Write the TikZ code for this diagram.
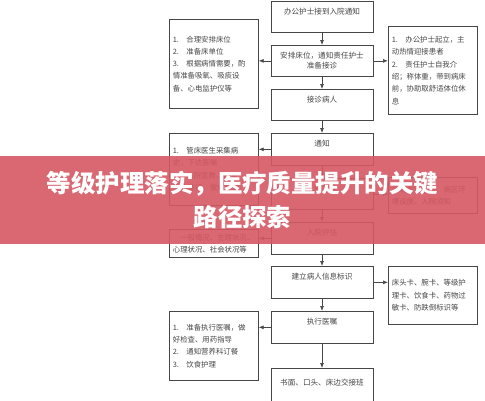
\documentclass[tikz,border=0pt]{standalone}
\usepackage{fontspec}
\setmainfont{Noto Sans CJK SC}
\usepackage{tikz}
\usetikzlibrary{arrows.meta,positioning,shadows}
\definecolor{bannerred}{RGB}{213,88,99}
\definecolor{inkgray}{RGB}{70,70,70}

\begin{document}
\begin{tikzpicture}[
    x=1pt, y=-1pt,
    flow/.style={
        rectangle,
        draw=inkgray,
        fill=white,
        line width=0.7pt,
        text=inkgray,
        font=\fontsize{7.6}{10}\selectfont,
        align=center,
        anchor=north,
        minimum width=102pt,
        minimum height=32pt,
        inner ysep=5pt,
        drop shadow={shadow xshift=1pt, shadow yshift=-1pt, opacity=0.3}
    },
    single/.style={
        flow,
        text height=8pt,
        text depth=14pt
    },
    side/.style={
        rectangle,
        draw=inkgray,
        fill=white,
        line width=0.7pt,
        text=inkgray,
        font=\fontsize{7.4}{12.3}\selectfont,
        align=left,
        anchor=north west,
        text width=82pt,
        inner xsep=3.5pt,
        drop shadow={shadow xshift=1pt, shadow yshift=-1pt, opacity=0.3}
    },
    line/.style={
        -{Latex[length=5pt, width=4pt]},
        line width=0.7pt,
        inkgray
    },
    banner/.style={
        rectangle,
        fill=bannerred,
        fill opacity=0.9,
        text opacity=1,
        text=white,
        align=center,
        inner sep=0pt,
        minimum width=485pt,
        minimum height=88pt,
        font=\fontsize{24.5}{34}\selectfont\bfseries
    }
]
\useasboundingbox (0,0) rectangle (485,400);

% === NODES (coluna central) ===
\node[single, minimum height=31pt, text depth=13pt] (notice) at (322,1) {办公护士接到入院通知};
\node[flow, minimum height=31pt] (bed) at (322,45) {安排床位，通知责任护士\\准备接诊};
\node[single, minimum height=31pt, text depth=13pt] (receive) at (322,89) {接诊病人};
\node[single] (inform) at (322,133) {通知};
\node[single, minimum height=31pt, text depth=13pt] (educate) at (322,178) {入院宣教};
\node[single] (assess) at (322,222) {入院评估};
\node[single] (label) at (322,266) {建立病人信息标识};
\node[single] (order) at (322,311) {执行医嘱};
\node[single, minimum height=40pt] (handover) at (322,368) {书面、口头、床边交接班};

% === NODES (coluna esquerda) ===
\node[side, minimum height=89pt] (prepare) at (169,19) {%
    1.\quad 合理安排床位\\
    2.\quad 准备床单位\\
    3.\quad 根据病情需要，酌\\
    情准备吸氧、吸痰设\\
    备、心电监护仪等};
\node[side, minimum height=72pt] (doctor) at (169,133) {%
    1.\quad 管床医生采集病\\
    史，下达医嘱\\
    2.\quad 入院宣教，测量\\
    生命体征，做好记录};
\node[side, minimum height=28pt] (status) at (169,229) {%
    \hspace{1em}一般情况、生理状况、\\
    心理状况、社会状况等};
\node[side, minimum height=69pt] (execute) at (169,311) {%
    1.\quad 准备执行医嘱，做\\
    好检查、用药指导\\
    2.\quad 通知营养科订餐\\
    3.\quad 饮食护理};

% === NODES (coluna direita) ===
\node[side, minimum height=88pt] (greet) at (388,26) {%
    1.\quad 办公护士起立，主\\
    动热情迎接患者\\
    2.\quad 责任护士自我介\\
    绍；称体重，带到病床\\
    前，协助取舒适体位休\\
    息};
\node[side, minimum height=36pt] (ward) at (388,177) {%
    介绍主管医护、病区环\\
    境设施、入院须知};
\node[side, minimum height=58pt] (cards) at (388,266) {%
    床头卡、腕卡、等级护\\
    理卡、饮食卡、药物过\\
    敏卡、防跌倒标识等};

% === ARROWS ===

% 1. fluxo central
\draw[line] (notice) -- (bed);
\draw[line] (bed) -- (receive);
\draw[line] (receive) -- (inform);
\draw[line] (inform) -- (educate);
\draw[line] (educate) -- (assess);
\draw[line] (assess) -- (label);
\draw[line] (label) -- (order);
\draw[line] (order) -- (handover);

% 2. para a esquerda
\draw[line] (bed.west) -- (bed.west -| prepare.east);
\draw[line] (inform.west) -- (inform.west -| doctor.east);
\draw[line] (assess.west) -- (assess.west -| status.east);
\draw[line] (order.west) -- (order.west -| execute.east);

% 3. para a direita
\draw[line] (bed.east) -- (bed.east -| greet.west);
\draw[line] (educate.east) -- (educate.east -| ward.west);
\draw[line] (label.east) -- (label.east -| cards.west);

% === BANNER ===
\node[banner] (title) at (242.5,200) {等级护理落实，医疗质量提升的关键\\路径探索};

\end{tikzpicture}
\end{document}
